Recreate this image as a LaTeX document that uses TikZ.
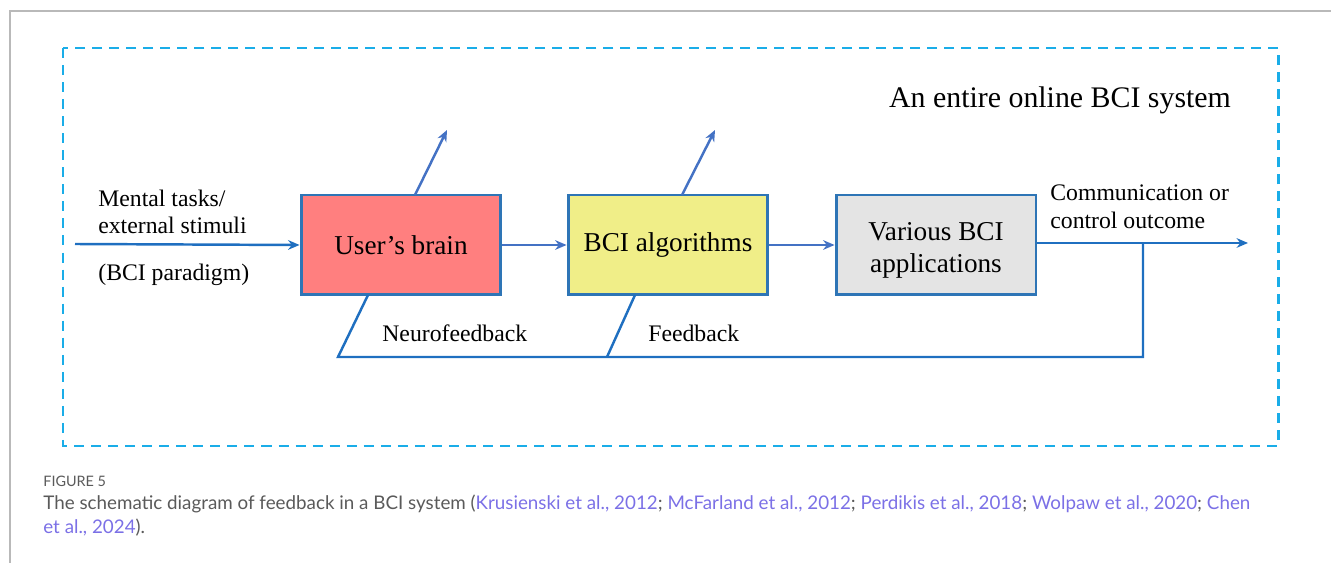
\documentclass[tikz,border=0pt]{standalone}
\usepackage{fontspec}
\setmainfont{Liberation Serif}
\newfontfamily\capfont{Lato}
\usetikzlibrary{arrows.meta}
\definecolor{dashblue}{HTML}{1AADE8}
\definecolor{boxblue}{HTML}{2E75B6}
\definecolor{linkblue}{HTML}{4472C4}
\definecolor{outblue}{HTML}{1F6FC0}
\definecolor{brainfill}{HTML}{FF7F7F}
\definecolor{algfill}{HTML}{F0EE88}
\definecolor{appfill}{HTML}{E4E4E4}
\definecolor{capgray}{HTML}{5A5A5A}
\definecolor{citecol}{HTML}{7B70E6}
\tikzset{
  blockbox/.style={draw=boxblue, line width=1.7pt, minimum width=4cm, minimum height=2cm, inner sep=0pt, font=\fontsize{15.5}{18}\selectfont, align=center},
  conn/.style={draw=linkblue, line width=1.4pt, -{Stealth[length=6.5pt,width=5.5pt]}},
  fb/.style={draw=outblue, line width=1.4pt},
  lbl/.style={inner sep=0pt, font=\fontsize{13.5}{16}\selectfont},
  captxt/.style={inner sep=0pt, anchor=west, text=capgray, font=\capfont\fontsize{10.7}{13}\selectfont},
}
\begin{document}
\begin{tikzpicture}[x=0.02cm, y=-0.02cm]
\useasboundingbox (0,0) rectangle (1331,563);
% page frame
\draw[gray!55, line width=0.8pt] (10,563) -- (10,11) -- (1331,11);
% dashed system boundary
\draw[dashblue, line width=1.7pt, dash pattern=on 5.7pt off 4pt] (63,48) rectangle (1278,446);
\node[inner sep=0pt, font=\fontsize{17}{20}\selectfont] (title) at (1060,100) {An entire online BCI system};
% blocks
\node[blockbox, fill=brainfill] (brain) at (401,245) {User’s brain};
\node[blockbox, fill=algfill] (alg) at (668,245) {BCI algorithms};
\node[blockbox, fill=appfill] (apps) at (936,245) {};
\node[inner sep=0pt, align=center, font=\fontsize{15.5}{18.2}\selectfont] (appstext) at (936,250) {Various BCI\\applications};
% free endpoints
\coordinate (in) at (75,244);
\coordinate (out) at (1248,243);
\coordinate (tap) at (1143,243);
\coordinate (fbr) at (1143,357);
\coordinate (fba) at (607,357);
\coordinate (fbb) at (338,357);
\coordinate (b1top) at (447,130);
\coordinate (a1top) at (715,130);
% main chain
\draw[conn, draw=outblue] (in) -- (brain.west);
\draw[conn] (brain.east) -- (alg.west);
\draw[conn] (alg.east) -- (apps.west);
\draw[conn, draw=outblue] (apps.east |- out) -- (out);
% feedback loop
\draw[fb] (tap) -- (fbr) -- (fbb) -- (368,295);
\draw[fb] (fba) -- (635,295);
% diagonal arrows from boxes
\draw[conn] (415,195) -- (b1top);
\draw[conn] (682,195) -- (a1top);
% labels
\node[lbl, anchor=west] (mt1) at (98,198) {Mental tasks/};
\node[lbl, anchor=west] (mt2) at (98,225) {external stimuli};
\node[lbl, anchor=west] (par) at (98,275) {(BCI paradigm)};
\node[lbl, anchor=west] (co1) at (1050,193) {Communication or};
\node[lbl, anchor=west] (co2) at (1050,220) {control outcome};
\node[lbl, anchor=west] (nf) at (382,333) {Neurofeedback};
\node[lbl, anchor=west] (fbk) at (648,333) {Feedback};
% caption
\node[captxt, font=\capfont\fontsize{8.2}{10}\selectfont] (fig) at (43,481) {FIGURE 5};
\node[captxt] (cap1) at (43,504) {The schematic diagram of feedback in a BCI system (\textcolor{citecol}{Krusienski et al., 2012}; \textcolor{citecol}{McFarland et al., 2012}; \textcolor{citecol}{Perdikis et al., 2018}; \textcolor{citecol}{Wolpaw et al., 2020}; \textcolor{citecol}{Chen}};
\node[captxt] (cap2) at (43,528) {\textcolor{citecol}{et al., 2024}).};
\end{tikzpicture}
\end{document}
